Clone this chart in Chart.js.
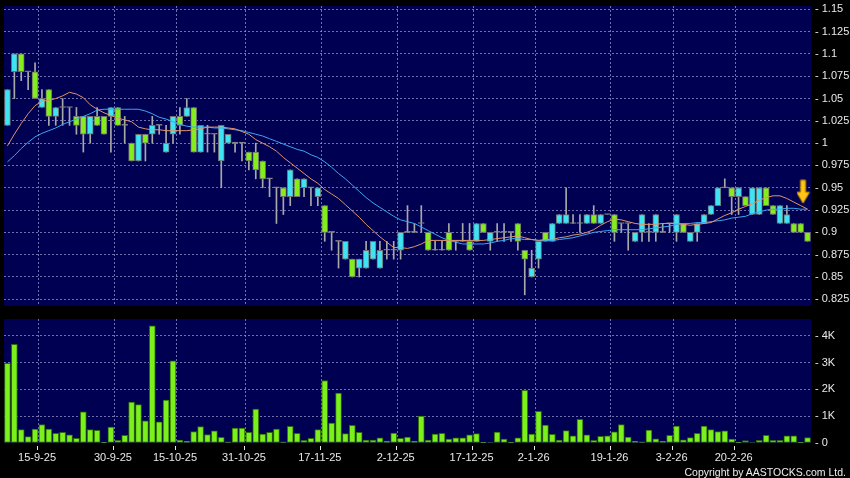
<!DOCTYPE html>
<html>
<head>
<meta charset="utf-8">
<script src="https://cdn.jsdelivr.net/npm/chart.js@4"></script>
<style>
  html, body { margin: 0; padding: 0; background: #000; }
  #wrap { position: relative; width: 850px; height: 478px; overflow: hidden; background: #000; }
  #priceChart { position: absolute; left: 0; top: 0; }
  #volChart { position: absolute; left: 0; top: 310px; }
  #copy { position: absolute; right: 4px; top: 466px; font: 10.5px "Liberation Sans", Arial, sans-serif; line-height: 12px; color: #eee; }
</style>
</head>
<body>
<div id="wrap">
  <canvas id="priceChart" width="850" height="310"></canvas>
  <canvas id="volChart" width="850" height="168"></canvas>
  <div id="copy">Copyright by AASTOCKS.com Ltd.</div>
</div>
<script>
// 日足データ (始値・高値・安値・終値)
var opens = [1.02,1.08,1.10,1.08,1.08,1.04,1.06,1.03,1.04,1.04, 1.03,1.03,1.01,1.03,1.03,1.03,1.04,1.02,1.00,0.98,
  1.01,1.01,1.02,0.99,1.01,1.03,1.03,1.04,0.99,1.01, 1.01,0.98,1.00,1.00,1.00,0.99,0.99,0.98,0.96,0.95,
  0.95,0.94,0.96,0.95,0.95,0.94,0.93,0.90,0.89,0.87, 0.87,0.86,0.86,0.87,0.86,0.88,0.88,0.88,0.90,0.90,
  0.91,0.90,0.88,0.88,0.90,0.89,0.89,0.89,0.89,0.91, 0.89,0.90,0.90,0.90,0.91,0.88,0.85,0.87,0.90,0.89,
  0.91,0.91,0.91,0.91,0.91,0.92,0.91,0.92,0.92,0.91, 0.91,0.89,0.90,0.90,0.90,0.90,0.91,0.90,0.91,0.89,
  0.90,0.91,0.92,0.93,0.95,0.95,0.94,0.94,0.92,0.92, 0.95,0.93,0.91,0.91,0.91,0.91,0.90];
var highs = [1.06,1.10,1.10,1.08,1.09,1.06,1.06,1.04,1.05,1.04, 1.04,1.03,1.03,1.04,1.03,1.04,1.04,1.03,1.00,1.01,
  1.01,1.03,1.02,1.02,1.03,1.04,1.05,1.04,1.02,1.02, 1.01,1.02,1.01,1.00,1.00,0.99,1.00,0.98,0.96,0.95,
  0.95,0.97,0.96,0.96,0.95,0.95,0.93,0.90,0.89,0.89, 0.87,0.87,0.89,0.89,0.89,0.89,0.89,0.90,0.93,0.91,
  0.93,0.90,0.89,0.89,0.91,0.89,0.91,0.91,0.91,0.91, 0.90,0.91,0.91,0.90,0.91,0.88,0.88,0.89,0.90,0.91,
  0.92,0.95,0.92,0.92,0.92,0.93,0.92,0.92,0.92,0.91, 0.91,0.90,0.92,0.91,0.92,0.91,0.91,0.92,0.91,0.90,
  0.91,0.92,0.93,0.95,0.96,0.95,0.95,0.94,0.95,0.95, 0.95,0.93,0.93,0.93,0.91,0.91,0.90];
var lows = [1.02,1.05,1.07,1.06,1.05,1.04,1.02,1.02,1.02,1.02, 1.01,0.99,1.00,1.02,1.01,0.99,1.02,1.00,0.98,0.98,
  0.98,1.00,1.01,0.99,1.00,1.01,1.03,0.99,0.99,0.99, 0.99,0.95,1.00,0.99,0.98,0.97,0.96,0.95,0.94,0.91,
  0.92,0.93,0.94,0.94,0.93,0.93,0.89,0.88,0.86,0.87, 0.85,0.85,0.86,0.87,0.86,0.87,0.87,0.87,0.90,0.90,
  0.90,0.88,0.88,0.88,0.88,0.88,0.89,0.88,0.89,0.90, 0.88,0.89,0.89,0.89,0.88,0.83,0.85,0.86,0.89,0.89,
  0.91,0.91,0.91,0.90,0.91,0.91,0.91,0.92,0.89,0.90, 0.88,0.89,0.89,0.89,0.89,0.90,0.90,0.89,0.90,0.89,
  0.89,0.91,0.92,0.93,0.95,0.92,0.92,0.93,0.92,0.92, 0.93,0.92,0.91,0.91,0.90,0.90,0.89];
var closes = [1.06,1.10,1.08,1.08,1.05,1.05,1.03,1.04,1.04,1.04, 1.02,1.01,1.03,1.02,1.01,1.04,1.02,1.02,0.98,1.01,
  1.00,1.02,1.02,1.00,1.03,1.02,1.04,0.99,1.02,1.01, 1.01,1.02,1.01,1.00,1.00,0.98,0.97,0.96,0.96,0.95,
  0.94,0.97,0.94,0.96,0.95,0.95,0.90,0.90,0.89,0.89, 0.85,0.87,0.88,0.89,0.88,0.88,0.88,0.90,0.90,0.90,
  0.91,0.88,0.88,0.88,0.88,0.89,0.89,0.88,0.91,0.90, 0.90,0.90,0.90,0.90,0.89,0.87,0.86,0.89,0.89,0.91,
  0.92,0.92,0.91,0.91,0.92,0.91,0.92,0.92,0.90,0.91, 0.91,0.90,0.92,0.90,0.92,0.90,0.91,0.92,0.90,0.90,
  0.91,0.92,0.93,0.95,0.95,0.94,0.95,0.93,0.95,0.95, 0.93,0.92,0.93,0.92,0.90,0.90,0.89];

// 移動平均線
var maShort = [0.997,1.010,1.022,1.033,1.042,1.047,1.048,1.050,1.053,1.057, 1.055,1.051,1.043,1.038,1.034,1.031,1.028,1.026,1.024,1.018,
  1.016,1.015,1.015,1.014,1.014,1.014,1.014,1.015,1.016,1.018, 1.018,1.018,1.017,1.016,1.013,1.010,1.004,1.000,0.996,0.991,
  0.984,0.978,0.972,0.966,0.960,0.955,0.948,0.943,0.938,0.931, 0.924,0.917,0.909,0.902,0.895,0.889,0.883,0.883,0.882,0.884,
  0.887,0.891,0.891,0.891,0.891,0.891,0.891,0.891,0.891,0.891, 0.892,0.893,0.894,0.895,0.896,0.894,0.892,0.891,0.892,0.892,
  0.894,0.895,0.897,0.898,0.900,0.903,0.908,0.912,0.915,0.914, 0.912,0.910,0.909,0.909,0.909,0.910,0.910,0.910,0.909,0.908,
  0.909,0.910,0.911,0.915,0.919,0.922,0.926,0.929,0.932,0.936, 0.939,0.941,0.941,0.938,0.934,0.930,0.926];
var maLong = [0.979,0.986,0.994,1.001,1.007,1.011,1.014,1.017,1.021,1.024, 1.027,1.030,1.033,1.037,1.038,1.038,1.038,1.038,1.038,1.038,
  1.036,1.033,1.029,1.027,1.024,1.021,1.019,1.018,1.018,1.018, 1.017,1.017,1.016,1.015,1.014,1.012,1.010,1.008,1.005,1.002,
  0.999,0.996,0.993,0.991,0.987,0.984,0.979,0.973,0.966,0.960, 0.953,0.946,0.939,0.933,0.928,0.923,0.918,0.914,0.912,0.910,
  0.906,0.902,0.898,0.894,0.891,0.889,0.887,0.887,0.887,0.887, 0.888,0.890,0.891,0.893,0.893,0.892,0.892,0.891,0.891,0.891,
  0.892,0.893,0.894,0.896,0.898,0.900,0.901,0.902,0.903,0.903, 0.903,0.903,0.903,0.904,0.905,0.906,0.907,0.909,0.910,0.910,
  0.911,0.911,0.912,0.913,0.914,0.916,0.917,0.918,0.921,0.923, 0.925,0.926,0.926,0.927,0.927,0.926,0.926];

// 出来高
var volumes = [2970,3680,500,240,520,690,520,360,400,300, 170,1160,500,470,10,590,100,290,1520,1430,
  830,4370,790,1600,3060,110,60,430,610,310, 450,210,40,560,560,400,1260,330,400,520,
  40,620,360,100,170,500,2330,740,1860,350, 660,400,110,110,190,70,370,170,220,60,
  1000,110,330,360,150,190,190,300,350,10, 20,410,150,10,190,1960,330,1180,670,320,
  110,460,270,880,300,100,250,270,420,690, 220,60,40,480,160,60,290,630,120,200,
  360,630,500,430,450,150,10,90,20,100, 290,100,100,270,270,10,200];

// 軸ラベル
var tickIdx = [4, 15, 24, 34, 45, 56, 67, 76, 87, 96, 105];
var tickText = ['15-9-25','30-9-25','15-10-25','31-10-25','17-11-25','2-12-25','17-12-25','2-1-26','19-1-26','3-2-26','20-2-26'];
var priceTicks = [0.825,0.85,0.875,0.9,0.925,0.95,0.975,1,1.025,1.05,1.075,1.1,1.125,1.15];
var volTicks = [0,1000,2000,3000,4000];

// 矢印マーカー
var arrowIndex = 116;
var arrowPrice = 0.945;

var upColor = '#3fe4f4';
var downColor = '#84ee1c';
var flatColor = '#a0a0a0';
var navy = '#000052';
var gridColor = 'rgba(150,150,205,0.75)';
var textColor = '#e8e8e8';

Chart.defaults.font.family = '"Liberation Sans", Arial, sans-serif';
Chart.defaults.font.size = 11;
Chart.defaults.color = textColor;
Chart.defaults.animation = false;

var categories = closes.map(function (_, i) { return i; });

// パネルの背景
var panelBg = {
  id: 'panelBg',
  beforeDraw: function (chart) {
    var a = chart.chartArea, ctx = chart.ctx;
    ctx.save();
    ctx.fillStyle = navy;
    ctx.fillRect(a.left, a.top, a.right - a.left, a.bottom - a.top);
    ctx.restore();
  }
};

// 日付の目盛り線
var dateMarks = {
  id: 'dateMarks',
  afterDraw: function (chart) {
    var xs = chart.scales.x, ctx = chart.ctx, b = chart.chartArea.bottom;
    ctx.save();
    ctx.strokeStyle = textColor;
    ctx.lineWidth = 1;
    tickIdx.forEach(function (i) {
      var x = Math.round(xs.getPixelForValue(i) + 2) + 0.5;
      ctx.beginPath();
      ctx.moveTo(x, b + 3);
      ctx.lineTo(x, b + 7);
      ctx.stroke();
    });
    ctx.restore();
  }
};

function xAxis(showLabels) {
  return {
    type: 'category',
    offset: true,
    grid: {
      offset: true,
      drawTicks: false,
      color: function (c) { return tickIdx.indexOf(c.index - 1) >= 0 ? gridColor : 'transparent'; }
    },
    border: { display: false, dash: [2, 2] },
    ticks: {
      display: showLabels,
      autoSkip: false,
      maxRotation: 0,
      minRotation: 0,
      padding: 8,
      labelOffset: 2,
      color: textColor,
      callback: function (v, i) { var k = tickIdx.indexOf(i); return k >= 0 ? tickText[k] : ''; }
    },
    afterFit: function (axis) { axis.height = showLabels ? 35 : 0; axis.paddingLeft = 0; axis.paddingRight = 0; }
  };
}

function yAxis(min, max, list, fmt) {
  return {
    position: 'right',
    min: min,
    max: max,
    afterBuildTicks: function (axis) { axis.ticks = list.map(function (v) { return { value: v }; }); },
    grid: {
      drawTicks: false,
      color: function (c) { return c.tick && c.tick.value > min ? gridColor : 'transparent'; }
    },
    border: { display: false, dash: [2, 2] },
    ticks: { padding: 4, color: textColor, callback: fmt },
    afterFit: function (axis) { axis.width = 39; axis.paddingTop = 0; axis.paddingBottom = 0; }
  };
}

function makeArrow() {
  var c = document.createElement('canvas');
  c.width = 22; c.height = 26;
  var g = c.getContext('2d');
  g.fillStyle = '#ffc414';
  g.strokeStyle = '#c08a00';
  g.lineWidth = 1;
  g.beginPath();
  g.moveTo(4, 1); g.lineTo(9, 1); g.lineTo(9, 13); g.lineTo(13, 13);
  g.lineTo(6.5, 24); g.lineTo(0, 13); g.lineTo(4, 13);
  g.closePath();
  g.fill();
  g.stroke();
  return c;
}

var bodyColors = closes.map(function (c, i) {
  return c > opens[i] ? upColor : (c < opens[i] ? downColor : flatColor);
});
var arrowData = categories.map(function (i) { return i === arrowIndex ? arrowPrice : null; });

new Chart(document.getElementById('priceChart').getContext('2d'), {
  type: 'bar',
  data: {
    labels: categories,
    datasets: [
      {
        label: 'wick',
        data: lows.map(function (l, i) { return [l, highs[i]]; }),
        backgroundColor: '#a8a8a8',
        barThickness: 1,
        grouped: false,
        order: 4
      },
      {
        label: 'body',
        data: opens.map(function (o, i) { return [o, closes[i]]; }),
        backgroundColor: bodyColors,
        borderColor: '#6e6e6e',
        borderWidth: 1,
        borderSkipped: false,
        minBarLength: 1,
        barThickness: 6,
        grouped: false,
        order: 3
      },
      {
        type: 'line',
        label: 'MA20',
        data: maLong,
        borderColor: '#3aa6f2',
        borderWidth: 1,
        pointRadius: 0,
        pointHoverRadius: 0,
        pointBorderWidth: 0,
        tension: 0,
        order: 2
      },
      {
        type: 'line',
        label: 'MA10',
        data: maShort,
        borderColor: '#e0946a',
        borderWidth: 1,
        pointRadius: 0,
        pointHoverRadius: 0,
        pointBorderWidth: 0,
        tension: 0,
        order: 1
      },
      {
        type: 'line',
        label: 'arrow',
        data: arrowData,
        showLine: false,
        borderWidth: 0,
        pointStyle: makeArrow(),
        pointRadius: 1,
        pointHoverRadius: 0,
        pointBorderWidth: 0,
        clip: false,
        order: 0
      }
    ]
  },
  options: {
    responsive: false,
    devicePixelRatio: 1,
    layout: { padding: { left: 4, right: 0, top: 6, bottom: 4 } },
    plugins: { legend: { display: false }, tooltip: { enabled: false } },
    scales: {
      x: xAxis(false),
      y: yAxis(0.8175, 1.1537, priceTicks, function (v) { return '- ' + (+v.toFixed(3)); })
    }
  },
  plugins: [panelBg]
});

new Chart(document.getElementById('volChart').getContext('2d'), {
  type: 'bar',
  data: {
    labels: categories,
    datasets: [{
      label: 'volume',
      data: volumes,
      backgroundColor: '#7cf01c',
      borderColor: '#2e6a08',
      borderWidth: 1,
      borderSkipped: false,
      barThickness: 6
    }]
  },
  options: {
    responsive: false,
    devicePixelRatio: 1,
    layout: { padding: { left: 4, right: 0, top: 9, bottom: 0 } },
    plugins: { legend: { display: false }, tooltip: { enabled: false } },
    scales: {
      x: xAxis(true),
      y: yAxis(0, 4620, volTicks, function (v) { return '- ' + (v === 0 ? '0' : (v / 1000) + 'K'); })
    }
  },
  plugins: [panelBg, dateMarks]
});
</script>
</body>
</html>
